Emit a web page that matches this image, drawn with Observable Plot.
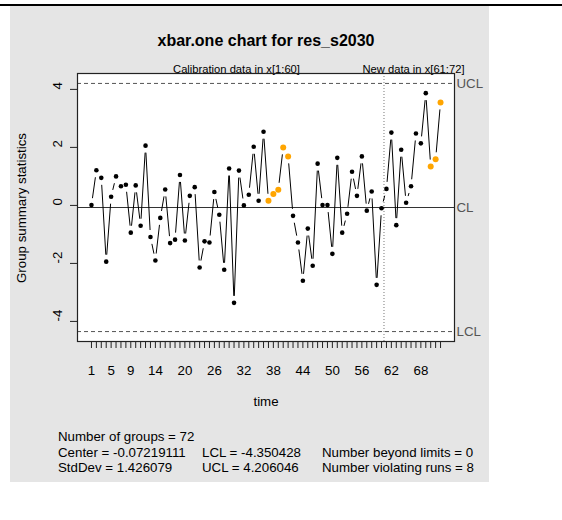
<!DOCTYPE html>
<html>
<head>
<meta charset="utf-8">
<script src="https://cdn.jsdelivr.net/npm/d3@7"></script>
<script src="https://cdn.jsdelivr.net/npm/@observablehq/plot@0.6"></script>
<style>
  body { margin: 0; background: #fff; font-family: "Liberation Sans", Arial, Helvetica, sans-serif; }
  #wrap { position: relative; width: 562px; height: 520px; overflow: hidden; }
  #topline { position: absolute; left: 0; top: 4px; width: 562px; height: 2px; background: #000; }
  #panel { position: absolute; left: 10px; top: 6px; width: 479px; height: 476px; background: #e5e5e5; }
  #chart { position: absolute; left: 0; top: 0; }
  .t { position: absolute; white-space: pre; color: #000; font-size: 13.3px; line-height: 16px; }
  #title { left: 0; width: 532px; text-align: center; top: 31px; font-size: 16px; font-weight: bold; line-height: 20px; }
  #xlab { left: 0; width: 532px; text-align: center; top: 394px; }
  #ylab { left: 22px; top: 208px; transform: translate(-50%, -50%) rotate(-90deg); }
</style>
</head>
<body>
<div id="wrap">
  <div id="topline"></div>
  <div id="panel"></div>
  <div id="chart"></div>
  <div class="t" id="title"></div>
  <div class="t" id="ylab"></div>
  <div class="t" id="xlab"></div>
  <div id="stats"></div>
</div>
<script>
// Individual observations (xbar.one: one observation per group)
const groupStats = [
  0.01, 1.21, 0.95, -1.94, 0.30, 1.00, 0.66, 0.71, -0.94, 0.69,
  -0.70, 2.06, -1.09, -1.90, -0.43, 0.55, -1.30, -1.18, 1.05, -1.21,
  0.33, 0.63, -2.14, -1.24, -1.28, 0.46, -0.32, -2.22, 1.27, -3.36,
  1.20, 0.00, 0.37, 2.02, 0.16, 2.54, 0.16, 0.39, 0.54, 2.00,
  1.69, -0.36, -1.28, -2.60, -0.80, -2.08, 1.44, 0.01, 0.01, -1.67,
  1.64, -0.94, -0.29, 1.16, 0.33, 1.69, -0.18, 0.48, -2.74, -0.10,
  0.57, 2.51, -0.68, 1.92, 0.09, 0.66, 2.48, 2.14, 3.87, 1.34,
  1.59, 3.55
];
const groupIndex = groupStats.map((_, i) => i + 1);
// Groups flagged by the runs rule
const violatingRuns = [37, 38, 39, 40, 41, 70, 71, 72];

// Control limits and summary
const center = -0.07219111;
const stdDev = 1.426079;
const lcl = -4.350428;
const ucl = 4.206046;
const beyondLimits = 0;
const calibrationEnd = 60;

const yTicks = [-4, -2, 0, 2, 4];
const xTickLabels = [1, 5, 9, 14, 20, 26, 32, 38, 44, 50, 56, 62, 68];
const limitLabels = ["LCL", "CL", "UCL"];
const limitValues = [lcl, center, ucl];

const titleText = "xbar.one chart for res_s2030";
const xTitle = "time";
const yTitle = "Group summary statistics";

// Build tables
const points = groupIndex.map((g, i) => ({g, v: groupStats[i], flag: violatingRuns.includes(g)}));
const segments = d3.pairs(points).map(([a, b]) => ({x1: a.g, y1: a.v, x2: b.g, y2: b.v}));
const limits = limitLabels.map((label, i) => ({label, v: limitValues[i]}));
const phases = [
  {x: d3.mean(groupIndex.slice(0, calibrationEnd)), text: `Calibration data in x[1:${calibrationEnd}]`},
  {x: d3.mean(groupIndex.slice(calibrationEnd)), text: `New data in x[${calibrationEnd + 1}:${groupIndex.length}]`}
];

// Axis ranges extended by 4% as in base graphics
const xr = [1, groupIndex.length];
const xpad = (xr[1] - xr[0]) * 0.04;
const yr = d3.extent([...groupStats, lcl, ucl]);
const ypad = (yr[1] - yr[0]) * 0.04;

const plot = Plot.plot({
  width: 562,
  height: 520,
  marginLeft: 77,
  marginRight: 108,
  marginTop: 73,
  marginBottom: 179,
  style: {background: "transparent", fontFamily: "'Liberation Sans', Arial, sans-serif", fontSize: "13.3px", color: "#000", overflow: "visible"},
  x: {domain: [xr[0] - xpad, xr[1] + xpad]},
  y: {domain: [yr[0] - ypad, yr[1] + ypad]},
  marks: [
    Plot.frame({fill: "white"}),
    // control limits
    Plot.ruleY([lcl, ucl], {stroke: "#555", strokeDasharray: "4,3"}),
    Plot.ruleY([center], {stroke: "#333"}),
    Plot.ruleX([calibrationEnd + 0.5], {stroke: "#777", strokeDasharray: "1,2"}),
    // connecting segments with gaps around the points
    Plot.arrow(segments, {x1: "x1", y1: "y1", x2: "x2", y2: "y2", headLength: 0, inset: 7, stroke: "#000", strokeWidth: 1, strokeLinecap: "butt"}),
    Plot.dot(points.filter(d => !d.flag), {x: "g", y: "v", r: 2.3, fill: "#000"}),
    Plot.dot(points.filter(d => d.flag), {x: "g", y: "v", r: 3, fill: "#FFA500"}),
    // axes
    Plot.axisX({ticks: groupIndex, tickSize: 7, tickFormat: () => "", label: null, stroke: "#222"}),
    Plot.axisX({ticks: xTickLabels, tickSize: 0, tickPadding: 24, label: null, tickFormat: d => String(d), fontSize: 13.3}),
    Plot.axisY({ticks: yTicks, tickSize: 7, tickFormat: () => "", label: null, stroke: "#222"}),
    Plot.text(yTicks, {y: d => d, text: d => String(d), frameAnchor: "left", dx: -20, rotate: -90, fontSize: 13.3, fill: "#000"}),
    // limit labels and phase labels
    Plot.text(limits, {y: "v", text: "label", frameAnchor: "right", dx: 2, textAnchor: "start", fill: "#555", fontSize: 13.3}),
    Plot.text(phases, {x: "x", text: "text", frameAnchor: "top", dy: -1, lineAnchor: "bottom", fontSize: 11.2, fill: "#000"}),
    Plot.frame({stroke: "#222", strokeWidth: 1.2})
  ]
});
document.getElementById("chart").appendChild(plot);

document.getElementById("title").textContent = titleText;
document.getElementById("xlab").textContent = xTitle;
document.getElementById("ylab").textContent = yTitle;

// Summary lines underneath the chart
const statRows = [
  [`Number of groups = ${groupIndex.length}`, "", ""],
  [`Center = ${center}`, `LCL = ${lcl}`, `Number beyond limits = ${beyondLimits}`],
  [`StdDev = ${stdDev}`, `UCL = ${ucl}`, `Number violating runs = ${violatingRuns.length}`]
];
const colX = [58, 202, 322];
const rowTop = [429, 444.5, 459.5];
const stats = document.getElementById("stats");
statRows.forEach((row, r) => row.forEach((txt, c) => {
  if (!txt) return;
  const el = document.createElement("div");
  el.className = "t";
  el.style.left = colX[c] + "px";
  el.style.top = rowTop[r] + "px";
  el.textContent = txt;
  stats.appendChild(el);
}));
</script>
</body>
</html>
